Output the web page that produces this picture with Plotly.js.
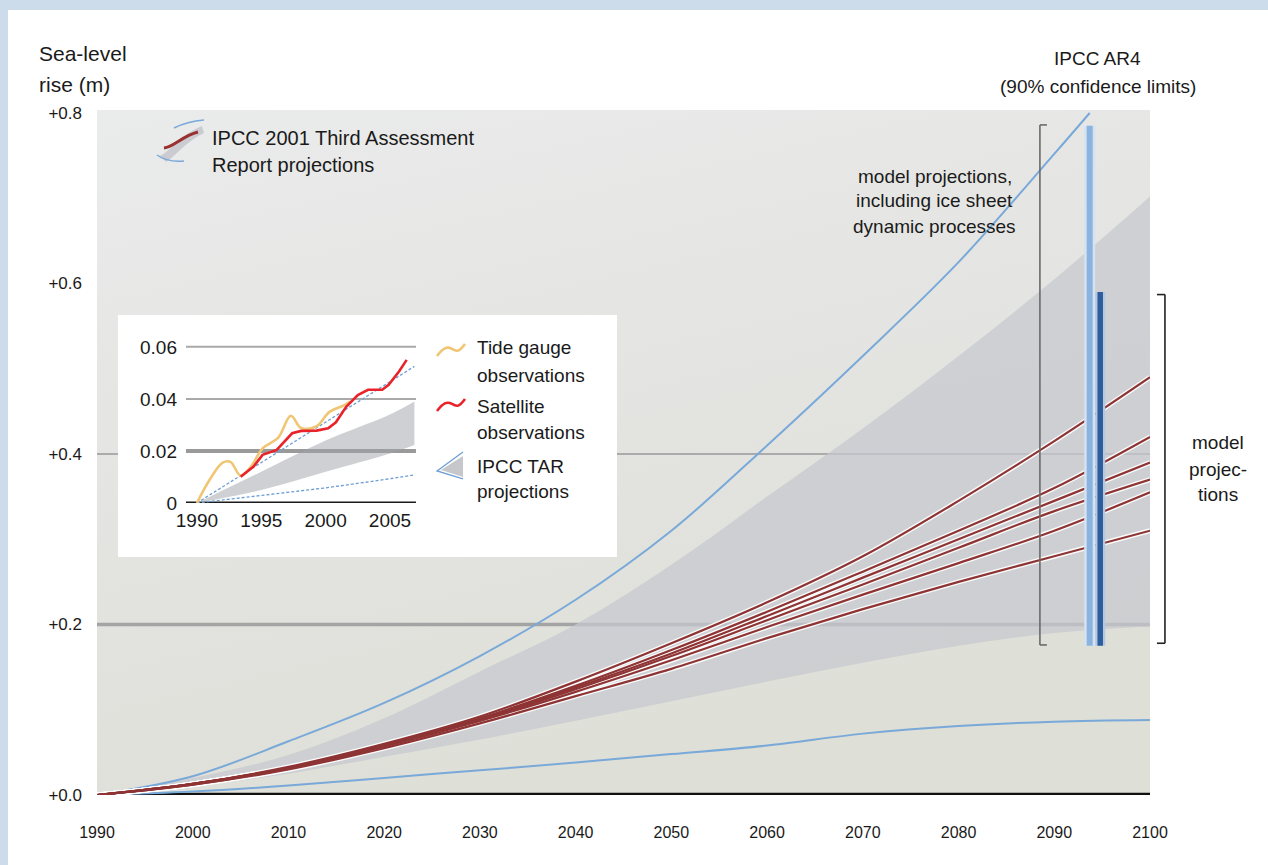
<!DOCTYPE html>
<html>
<head>
<meta charset="utf-8">
<script src="https://cdn.plot.ly/plotly-3.0.1.min.js"></script>
<style>
  html, body { margin: 0; padding: 0; background: #cddcea; width: 1268px; height: 865px; overflow: hidden; }
  #chart { position: absolute; left: 8px; top: 10px; width: 1260px; height: 855px; background: #ffffff; }
</style>
</head>
<body>
<div id="chart"></div>
<script>
// ---------- main chart data ----------
const years = [1990, 2000, 2010, 2020, 2030, 2040, 2050, 2060, 2070, 2080, 2090, 2100];
const xTickVals = [1990, 2000, 2010, 2020, 2030, 2040, 2050, 2060, 2070, 2080, 2090, 2100];
const xTickText = ['1990', '2000', '2010', '2020', '2030', '2040', '2050', '2060', '2070', '2080', '2090', '2100'];
const yTickVals = [0, 0.2, 0.4, 0.6, 0.8];
const yTickText = ['+0.0', '+0.2', '+0.4', '+0.6', '+0.8'];

// IPCC TAR envelope (grey band)
const tarBandLower = [0, 0.010, 0.025, 0.045, 0.065, 0.087, 0.110, 0.133, 0.155, 0.175, 0.190, 0.198];
const tarBandUpper = [0, 0.020, 0.047, 0.090, 0.145, 0.200, 0.270, 0.350, 0.430, 0.515, 0.605, 0.702];

// IPCC TAR outer limits (blue lines)
const tarUpperYears = [1990, 2000, 2010, 2020, 2030, 2040, 2050, 2060, 2070, 2080, 2090, 2093.7];
const tarUpper = [0, 0.022, 0.063, 0.108, 0.163, 0.229, 0.310, 0.410, 0.515, 0.625, 0.752, 0.800];
const tarLower = [0, 0.004, 0.011, 0.020, 0.029, 0.038, 0.048, 0.058, 0.072, 0.081, 0.086, 0.088];

// model projections (brown lines)
const model1 = [0, 0.013, 0.033, 0.060, 0.092, 0.133, 0.178, 0.226, 0.280, 0.345, 0.415, 0.490];
const model2 = [0, 0.013, 0.032, 0.059, 0.090, 0.128, 0.170, 0.215, 0.262, 0.310, 0.360, 0.420];
const model3 = [0, 0.013, 0.032, 0.058, 0.089, 0.126, 0.166, 0.210, 0.255, 0.300, 0.345, 0.390];
const model4 = [0, 0.013, 0.032, 0.058, 0.088, 0.124, 0.163, 0.205, 0.247, 0.290, 0.333, 0.370];
const model5 = [0, 0.012, 0.031, 0.057, 0.087, 0.121, 0.158, 0.197, 0.235, 0.272, 0.310, 0.355];
const model6 = [0, 0.012, 0.030, 0.055, 0.084, 0.116, 0.148, 0.184, 0.218, 0.250, 0.280, 0.310];

// IPCC AR4 ranges (90% confidence limits)
const ar4IceYear = 2093.7;
const ar4IceRange = [0.175, 0.785];
const ar4ModelYear = 2094.8;
const ar4ModelRange = [0.175, 0.59];
const bracketIceYear = 2088.5;
const bracketIceRange = [0.176, 0.786];
const bracketModelRange = [0.178, 0.587];

// ---------- inset data ----------
const insetTickVals = [1990, 1995, 2000, 2005];
const insetTickText = ['1990', '1995', '2000', '2005'];
const insetYTickVals = [0, 0.02, 0.04, 0.06];
const insetYTickText = ['0', '0.02', '0.04', '0.06'];

const tideYears = [1990, 1991, 1992, 1992.6, 1993.4, 1994.2, 1995.1, 1996.3, 1997.3, 1998.1, 1999.3, 2000.3, 2001.5, 2001.9];
const tideGauge = [0, 0.009, 0.0155, 0.0158, 0.0105, 0.014, 0.021, 0.025, 0.0335, 0.0288, 0.0295, 0.035, 0.0377, 0.039];

const satYears = [1993.4, 1994.4, 1995.1, 1996.2, 1997.4, 1998.1, 1999.3, 2000.2, 2000.8, 2001.6, 2002.5, 2003.3, 2004.4, 2004.9, 2005.7, 2006.3];
const satellite = [0.0101, 0.014, 0.0185, 0.0204, 0.0268, 0.0277, 0.0278, 0.0287, 0.031, 0.037, 0.0415, 0.0435, 0.0435, 0.0454, 0.0505, 0.055];

const insetTarYears = [1990, 1995, 2000, 2005, 2006.9];
const insetTarUpper = [0, 0.0155, 0.031, 0.0465, 0.0525];
const insetTarLower = [0, 0.0028, 0.0058, 0.0093, 0.0108];
const insetBandUpper = [0, 0.012, 0.024, 0.034, 0.039];
const insetBandLower = [0, 0.005, 0.012, 0.019, 0.0223];

// ---------- styles ----------
const FONT = 'Arial, "Liberation Sans", sans-serif';
const TXT = '#1a1a1a';
const BLUE = '#79a9d9';
const BROWN = '#8e3434';

const traces = [];
traces.push({x: years, y: tarBandLower, mode: 'lines', line: {width: 0, shape: 'spline'}, hoverinfo: 'skip', showlegend: false});
traces.push({x: years, y: tarBandUpper, mode: 'lines', fill: 'tonexty', fillcolor: 'rgba(198,200,207,0.72)', line: {width: 0, shape: 'spline'}, hoverinfo: 'skip', showlegend: false});
traces.push({x: tarUpperYears, y: tarUpper, mode: 'lines', line: {color: BLUE, width: 2, shape: 'spline'}, showlegend: false});
traces.push({x: years, y: tarLower, mode: 'lines', line: {color: BLUE, width: 2, shape: 'spline'}, showlegend: false});
[model1, model2, model3, model4, model5, model6].forEach(m => {
  traces.push({x: years, y: m, mode: 'lines', line: {color: 'rgba(255,255,255,0.9)', width: 5, shape: 'spline'}, hoverinfo: 'skip', showlegend: false});
});
[model1, model2, model3, model4, model5, model6].forEach(m => {
  traces.push({x: years, y: m, mode: 'lines', line: {color: BROWN, width: 2.2, shape: 'spline'}, showlegend: false});
});
traces.push({x: [bracketIceYear, bracketIceYear], y: bracketIceRange, mode: 'lines', line: {color: '#6a6a6a', width: 1.6}, showlegend: false, hoverinfo: 'skip'});
traces.push({x: [ar4IceYear, ar4IceYear], y: ar4IceRange, mode: 'lines', line: {color: '#d6e2ef', width: 11}, showlegend: false, hoverinfo: 'skip'});
traces.push({x: [ar4ModelYear, ar4ModelYear], y: ar4ModelRange, mode: 'lines', line: {color: '#b3c9e3', width: 10}, showlegend: false, hoverinfo: 'skip'});
traces.push({x: [ar4IceYear, ar4IceYear], y: ar4IceRange, mode: 'lines', line: {color: '#8ab4df', width: 6}, showlegend: false});
traces.push({x: [ar4ModelYear, ar4ModelYear], y: ar4ModelRange, mode: 'lines', line: {color: '#2f5d9b', width: 5.5}, showlegend: false});

// inset traces
traces.push({x: insetTarYears, y: insetBandLower, xaxis: 'x2', yaxis: 'y2', mode: 'lines', line: {width: 0, shape: 'spline'}, hoverinfo: 'skip', showlegend: false});
traces.push({x: insetTarYears, y: insetBandUpper, xaxis: 'x2', yaxis: 'y2', mode: 'lines', fill: 'tonexty', fillcolor: 'rgba(160,162,168,0.5)', line: {width: 0, shape: 'spline'}, hoverinfo: 'skip', showlegend: false});
traces.push({x: insetTarYears, y: insetTarUpper, xaxis: 'x2', yaxis: 'y2', mode: 'lines', line: {color: '#6d9fd5', width: 1.3, dash: '3px,2px'}, showlegend: false});
traces.push({x: insetTarYears, y: insetTarLower, xaxis: 'x2', yaxis: 'y2', mode: 'lines', line: {color: '#6d9fd5', width: 1.3, dash: '3px,2px'}, showlegend: false});
traces.push({x: tideYears, y: tideGauge, xaxis: 'x2', yaxis: 'y2', mode: 'lines', line: {color: '#f0c674', width: 2.6, shape: 'spline'}, showlegend: false});
traces.push({x: satYears, y: satellite, xaxis: 'x2', yaxis: 'y2', mode: 'lines', line: {color: '#e8232a', width: 2.6}, showlegend: false});

const insetBox = {x0: 0.0199, x1: 0.4938, y0: 0.3474, y1: 0.7007};
const insetDomX = [0.0845, 0.3029];
const insetDomY = [0.4263, 0.6599];

const gradSvg = "<svg xmlns='http://www.w3.org/2000/svg' width='200' height='200' preserveAspectRatio='none'>" +
  "<defs><linearGradient id='g' x1='0' y1='0' x2='0.35' y2='1'>" +
  "<stop offset='0' stop-color='#eaebeb'/><stop offset='0.5' stop-color='#e4e5e2'/><stop offset='1' stop-color='#dedfd7'/>" +
  "</linearGradient></defs><rect width='200' height='200' fill='url(#g)'/></svg>";
const gradUri = 'data:image/svg+xml;charset=utf-8,' + encodeURIComponent(gradSvg);

const shapes = [];
shapes.push({type: 'line', xref: 'paper', yref: 'y', x0: 0, x1: 1, y0: yTickVals[1], y1: yTickVals[1], line: {color: '#a4a4a4', width: 3.5}, layer: 'below'});
shapes.push({type: 'line', xref: 'paper', yref: 'y', x0: 0, x1: 1, y0: yTickVals[2], y1: yTickVals[2], line: {color: '#ababab', width: 2.2}, layer: 'below'});
shapes.push({type: 'line', xref: 'paper', yref: 'y', x0: 0, x1: 1, y0: 0, y1: 0, line: {color: '#111111', width: 4.5}, layer: 'below'});
shapes.push({type: 'rect', xref: 'paper', yref: 'paper', x0: insetBox.x0, x1: insetBox.x1, y0: insetBox.y0, y1: insetBox.y1, fillcolor: '#ffffff', line: {width: 0}, layer: 'below'});
shapes.push({type: 'line', xref: 'paper', yref: 'y2', x0: insetDomX[0], x1: insetDomX[1], y0: insetYTickVals[1], y1: insetYTickVals[1], line: {color: '#9a9a9a', width: 4}, layer: 'below'});
shapes.push({type: 'line', xref: 'paper', yref: 'y2', x0: insetDomX[0], x1: insetDomX[1], y0: insetYTickVals[2], y1: insetYTickVals[2], line: {color: '#a9a9a9', width: 2}, layer: 'below'});
shapes.push({type: 'line', xref: 'paper', yref: 'y2', x0: insetDomX[0], x1: insetDomX[1], y0: insetYTickVals[3], y1: insetYTickVals[3], line: {color: '#a9a9a9', width: 2}, layer: 'below'});
shapes.push({type: 'line', xref: 'paper', yref: 'y2', x0: insetDomX[0], x1: insetDomX[1], y0: 0, y1: 0, line: {color: '#1a1a1a', width: 3}, layer: 'below'});
const lbx = (bracketIceYear - 1990) / 110;
shapes.push({type: 'line', xref: 'paper', yref: 'y', x0: lbx, x1: lbx + 7 / 1053, y0: bracketIceRange[1], y1: bracketIceRange[1], line: {color: '#6a6a6a', width: 1.6}});
shapes.push({type: 'line', xref: 'paper', yref: 'y', x0: lbx, x1: lbx + 7 / 1053, y0: bracketIceRange[0], y1: bracketIceRange[0], line: {color: '#6a6a6a', width: 1.6}});
const rbx = 1.0142;
shapes.push({type: 'line', xref: 'paper', yref: 'y', x0: rbx, x1: rbx, y0: bracketModelRange[0], y1: bracketModelRange[1], line: {color: '#222222', width: 1.6}});
shapes.push({type: 'line', xref: 'paper', yref: 'y', x0: rbx - 8 / 1053, x1: rbx, y0: bracketModelRange[1], y1: bracketModelRange[1], line: {color: '#222222', width: 1.6}});
shapes.push({type: 'line', xref: 'paper', yref: 'y', x0: rbx - 8 / 1053, x1: rbx, y0: bracketModelRange[0], y1: bracketModelRange[0], line: {color: '#222222', width: 1.6}});

function icon(ax, ay, path, style) {
  return Object.assign({type: 'path', xref: 'paper', yref: 'paper', xsizemode: 'pixel', ysizemode: 'pixel', xanchor: ax, yanchor: ay, path: path, layer: 'above'}, style);
}
shapes.push(icon(0.0598, 0.927, 'M 0 4 C 12 10, 18 24, 42 34 L 44 27 C 24 17, 16 4, 6 -2 Z', {fillcolor: '#cbccd1', line: {width: 0}}));
shapes.push(icon(0.0598, 0.927, 'M 4 12 C 14 13, 22 24, 38 28', {line: {color: '#9b3030', width: 3}}));
shapes.push(icon(0.0598, 0.927, 'M 14 32 C 22 36, 32 39, 44 40', {line: {color: BLUE, width: 1.5}}));
shapes.push(icon(0.0598, 0.927, 'M -3 5 C 4 0, 14 -2, 24 -1', {line: {color: BLUE, width: 1.5}}));
shapes.push(icon(0.3229, 0.6409, 'M 0 0 C 6 8, 10 10, 15 7 S 22 4, 28 12', {line: {color: '#f0c674', width: 2.6}}));
shapes.push(icon(0.3229, 0.5606, 'M 0 0 C 6 8, 10 10, 15 7 S 22 4, 28 12', {line: {color: '#e8232a', width: 2.6}}));
shapes.push(icon(0.3229, 0.4730, 'M 4 1 L 26 15 L 26 -6 Z', {fillcolor: '#c6c7cb', line: {width: 0}}));
shapes.push(icon(0.3229, 0.4730, 'M 26 19 L 0 0 L 26 -8', {line: {color: '#6d9fd5', width: 1.3}}));

function txt(x, y, text, anchor, size) {
  return {xref: 'paper', yref: 'paper', x: x, y: y, text: text, showarrow: false, xanchor: anchor, yanchor: 'middle',
          font: {family: FONT, size: size, color: TXT}};
}
const annotations = [
  txt(-0.0570, 1.0832, 'Sea-level', 'left', 21),
  txt(-0.0570, 1.0365, 'rise (m)', 'left', 21),
  txt(0.1073, 0.9591, 'IPCC 2001 Third Assessment', 'left', 20),
  txt(0.1073, 0.9197, 'Report projections', 'left', 20),
  txt(0.7958, 0.9022, 'model projections,', 'center', 19),
  txt(0.7958, 0.8686, 'including ice sheet', 'center', 19),
  txt(0.7958, 0.8296, 'dynamic processes', 'center', 19),
  txt(0.9506, 1.0759, 'IPCC AR4', 'center', 19),
  txt(0.9506, 1.0336, '(90% confidence limits)', 'center', 19),
  txt(1.0646, 0.5139, 'model', 'center', 19),
  txt(1.0646, 0.4759, 'projec-', 'center', 19),
  txt(1.0646, 0.4380, 'tions', 'center', 19),
  txt(0.3590, 0.6540, 'Tide gauge', 'left', 19),
  txt(0.3590, 0.6131, 'observations', 'left', 19),
  txt(0.3590, 0.5669, 'Satellite', 'left', 19),
  txt(0.3590, 0.5285, 'observations', 'left', 19),
  txt(0.3590, 0.4793, 'IPCC TAR', 'left', 19),
  txt(0.3590, 0.4428, 'projections', 'left', 19)
];

const layout = {
  width: 1260, height: 855,
  margin: {l: 89, r: 118, t: 100, b: 70, pad: 0},
  paper_bgcolor: '#ffffff',
  plot_bgcolor: 'rgba(0,0,0,0)',
  showlegend: false,
  font: {family: FONT, color: TXT},
  xaxis: {
    range: [1990, 2100], tickvals: xTickVals, ticktext: xTickText,
    showgrid: false, zeroline: false, showline: false, ticks: '',
    ticklabelstandoff: 26, tickfont: {family: FONT, size: 16, color: TXT}, fixedrange: true
  },
  yaxis: {
    range: [0, 0.8035], tickvals: yTickVals, ticktext: yTickText,
    showgrid: false, zeroline: false, showline: false, ticks: '',
    ticklabelstandoff: 14, tickfont: {family: FONT, size: 17, color: TXT}, fixedrange: true
  },
  xaxis2: {
    domain: insetDomX, anchor: 'y2', range: [1989.15, 2007.02],
    tickvals: insetTickVals, ticktext: insetTickText,
    showgrid: false, zeroline: false, showline: false, ticks: '',
    ticklabelstandoff: 4, tickfont: {family: FONT, size: 19, color: TXT}, fixedrange: true
  },
  yaxis2: {
    domain: insetDomY, anchor: 'x2', range: [0, 0.0615],
    tickvals: insetYTickVals, ticktext: insetYTickText,
    showgrid: false, zeroline: false, showline: false, ticks: '',
    ticklabelstandoff: 8, tickfont: {family: FONT, size: 19, color: TXT}, fixedrange: true
  },
  images: [{source: gradUri, xref: 'paper', yref: 'paper', x: 0, y: 1, sizex: 1, sizey: 1,
            sizing: 'stretch', xanchor: 'left', yanchor: 'top', layer: 'below'}],
  shapes: shapes,
  annotations: annotations
};

Plotly.newPlot('chart', traces, layout, {displayModeBar: false, staticPlot: true});
</script>
</body>
</html>
